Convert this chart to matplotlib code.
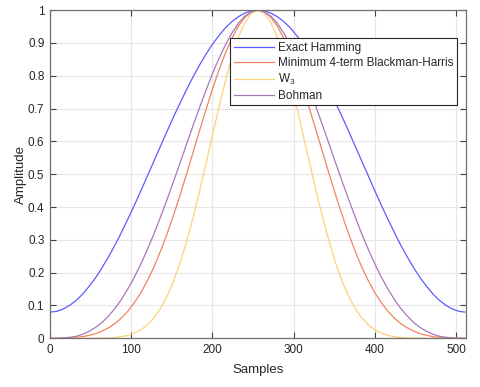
import matplotlib
matplotlib.use("Agg")
import matplotlib.pyplot as plt

plt.rcParams['font.family'] = ['Liberation Sans', 'DejaVu Sans']

# sample positions and window values
samples = [0, 8, 16, 24, 32, 40, 48, 56, 64, 72, 80, 88, 96, 104, 112, 120, 128, 136, 144, 152,
           160, 168, 176, 184, 192, 200, 208, 216, 224, 232, 240, 248, 256, 264, 272, 280, 288,
           296, 304, 312, 320, 328, 336, 344, 352, 360, 368, 376, 384, 392, 400, 408, 416, 424,
           432, 440, 448, 456, 464, 472, 480, 488, 496, 504, 511]

hamming = [0.080, 0.082, 0.089, 0.100, 0.115, 0.134, 0.158, 0.184, 0.215, 0.248, 0.284, 0.323,
           0.364, 0.406, 0.450, 0.495, 0.540, 0.585, 0.630, 0.674, 0.716, 0.757, 0.796, 0.832,
           0.865, 0.896, 0.922, 0.946, 0.965, 0.980, 0.991, 0.998, 1.000,
           0.998, 0.991, 0.980, 0.965, 0.946, 0.922, 0.896, 0.865, 0.832, 0.796, 0.757, 0.716,
           0.674, 0.630, 0.585, 0.540, 0.495, 0.450, 0.406, 0.364, 0.323, 0.284, 0.248, 0.215,
           0.184, 0.158, 0.134, 0.115, 0.100, 0.089, 0.082, 0.080]

blackman_harris = [0.0, 0.0002, 0.0007, 0.0016, 0.003, 0.005, 0.009, 0.014, 0.022, 0.032, 0.045,
                   0.062, 0.083, 0.109, 0.139, 0.176, 0.217, 0.265, 0.317, 0.374, 0.435, 0.499,
                   0.565, 0.631, 0.696, 0.758, 0.817, 0.869, 0.914, 0.951, 0.978, 0.994, 1.0,
                   0.994, 0.978, 0.951, 0.914, 0.869, 0.817, 0.758, 0.696, 0.631, 0.565, 0.499,
                   0.435, 0.374, 0.317, 0.265, 0.217, 0.176, 0.139, 0.109, 0.083, 0.062, 0.045,
                   0.032, 0.022, 0.014, 0.009, 0.005, 0.003, 0.0016, 0.0007, 0.0002, 0.0]

w3 = [0.0, 0.0, 0.0, 0.0, 0.0, 0.0, 0.0, 0.0002, 0.0005, 0.0011, 0.0024, 0.0049, 0.009, 0.016,
      0.026, 0.041, 0.0625, 0.091, 0.127, 0.173, 0.228, 0.293, 0.366, 0.446, 0.531, 0.618, 0.703,
      0.784, 0.856, 0.917, 0.962, 0.990, 1.0,
      0.990, 0.962, 0.917, 0.856, 0.784, 0.703, 0.618, 0.531, 0.446, 0.366, 0.293, 0.228, 0.173,
      0.127, 0.091, 0.0625, 0.041, 0.026, 0.016, 0.009, 0.0049, 0.0024, 0.0011, 0.0005, 0.0002,
      0.0, 0.0, 0.0, 0.0, 0.0, 0.0, 0.0]

bohman = [0.0, 0.0, 0.001, 0.003, 0.006, 0.012, 0.021, 0.033, 0.048, 0.068, 0.091, 0.119, 0.151,
          0.187, 0.227, 0.271, 0.318, 0.369, 0.422, 0.477, 0.533, 0.590, 0.647, 0.702, 0.755,
          0.806, 0.852, 0.894, 0.930, 0.960, 0.982, 0.995, 1.0,
          0.995, 0.982, 0.960, 0.930, 0.894, 0.852, 0.806, 0.755, 0.702, 0.647, 0.590, 0.533,
          0.477, 0.422, 0.369, 0.318, 0.271, 0.227, 0.187, 0.151, 0.119, 0.091, 0.068, 0.048,
          0.033, 0.021, 0.012, 0.006, 0.003, 0.001, 0.0, 0.0]

labels = ["Exact Hamming", "Minimum 4-term Blackman-Harris", r"$\mathregular{W_3}$", "Bohman"]
colors = ["#5c5cff", "#f0845f", "#fcd27a", "#a878b8"]

fig = plt.figure(figsize=(4.8, 3.87), dpi=100)
ax = fig.add_axes([0.1042, 0.1258, 0.866, 0.848])

for vals, lab, col in zip([hamming, blackman_harris, w3, bohman], labels, colors):
    ax.plot(samples, vals, color=col, lw=0.9, label=lab)

ax.set_xlim(0, 512)
ax.set_ylim(0, 1)
ax.set_xticks([0, 100, 200, 300, 400, 500])
ax.set_yticks([i / 10 for i in range(11)])
ax.set_yticklabels(["0", "0.1", "0.2", "0.3", "0.4", "0.5", "0.6", "0.7", "0.8", "0.9", "1"])
ax.grid(True, color="#e6e6e6", lw=0.8)
ax.set_axisbelow(True)
ax.tick_params(direction="in", top=True, right=True, length=4, width=0.8,
               labelsize=8.5, colors="#404040", labelcolor="#262626", pad=4)
for sp in ax.spines.values():
    sp.set_color("#707070")
    sp.set_linewidth(0.9)

ax.set_xlabel("Samples", fontsize=9.5, color="#262626", labelpad=6)
ax.set_ylabel("Amplitude", fontsize=9.5, color="#262626", labelpad=1)

leg = ax.legend(loc="upper right", bbox_to_anchor=(0.978, 0.914), fontsize=8.5,
                fancybox=False, framealpha=1, edgecolor="#262626", handlelength=3.4,
                handletextpad=0.3, borderpad=0.3, labelspacing=0.25, borderaxespad=0)
leg.get_frame().set_linewidth(0.8)
for t in leg.get_texts():
    t.set_color("#262626")

fig.savefig("out.png", dpi=100)
